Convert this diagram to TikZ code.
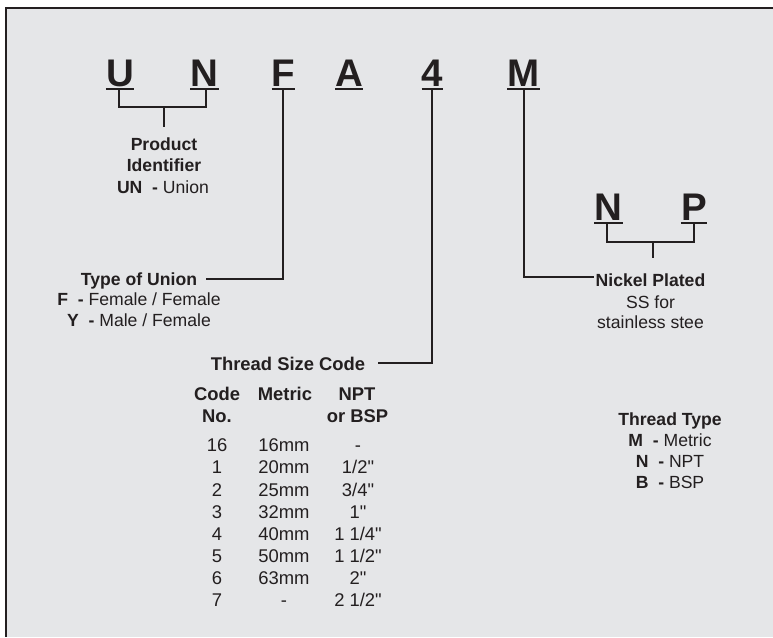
\documentclass[tikz,border=0pt]{standalone}
\usepackage{fontspec}
\setmainfont{Liberation Sans}
\definecolor{bgcol}{HTML}{E5E6E8}
\definecolor{ink}{HTML}{231F20}
\newcommand\bigf{\fontsize{38.5}{40}\selectfont\bfseries}
\newcommand\lblf{\fontsize{17.6}{21}\selectfont}
\newcommand\tblf{\fontsize{18.4}{22}\selectfont}
\newcommand\inch{\textquotedbl}
\begin{document}
\begin{tikzpicture}[x=1pt,y=-1pt,
  big/.style={font=\bigf, anchor=base, inner sep=0pt, text=ink},
  lbl/.style={font=\lblf, anchor=base, inner sep=0pt, text=ink},
  tbl/.style={font=\tblf, anchor=base, inner sep=0pt, text=ink},
  ln/.style={line width=2.4pt, draw=ink},
  ul/.style={line width=2pt, draw=ink},
  frame/.style={line width=1.3pt, draw=ink}]
\useasboundingbox (0,0) rectangle (773,637);
\fill[white] (0,0) rectangle (773,637);
\fill[bgcol] (6,8) rectangle (773,637);
\draw[frame] (773,8) -- (6,8) -- (6,637);

% big code letters
\node[big] (U) at (120,86) {U};
\node[big] (N) at (204.5,86) {N};
\node[big] (F) at (283.5,86) {F};
\node[big] (A) at (349,86) {A};
\node[big] (four) at (432.5,86) {4};
\node[big] (M) at (523.5,86) {M};
\node[big] (N2) at (608.5,220) {N};
\node[big] (P2) at (694,220) {P};

\foreach \n in {U,N,F,A,four,M,N2,P2}{
  \draw[ul] ([yshift=-2.6pt]\n.base west) -- ([yshift=-2.6pt]\n.base east);
}

% anchor points under letters
\coordinate (uU) at (119,88.5);
\coordinate (uN) at (206,88.5);
\coordinate (uF) at (283,88.5);
\coordinate (u4) at (432,88.5);
\coordinate (uM) at (524,88.5);
\coordinate (uN2) at (607,222.5);
\coordinate (uP2) at (694,222.5);

% Product identifier
\node[lbl,font=\lblf\bfseries] (prod) at (164,150) {Product};
\node[lbl,font=\lblf\bfseries] (ident) at (164,171) {Identifier};
\node[lbl] (union) at (163,193) {\textbf{UN\ \ -} Union};
\coordinate (pbr) at (164,107);
\coordinate (ptick) at (164,127);
\draw[ln] (uU) |- (pbr) -| (uN);
\draw[ln] (pbr) -- (ptick);

% Type of union
\node[lbl,font=\lblf\bfseries] (tou) at (139,285) {Type of Union};
\node[lbl] (ff) at (139,305) {\textbf{F\ \ -} Female / Female};
\node[lbl] (mf) at (139,326.5) {\textbf{Y\ \ -} Male / Female};
\coordinate (touend) at (206,279);
\draw[ln] (uF) |- (touend);

% Thread size code
\node[tbl,font=\tblf\bfseries] (tsc) at (288,370) {Thread Size Code};
\coordinate (tscend) at (378,363);
\draw[ln] (u4) |- (tscend);

\node[tbl,font=\tblf\bfseries] (h1a) at (217,400) {Code};
\node[tbl,font=\tblf\bfseries] (h1b) at (217,422) {No.};
\node[tbl,font=\tblf\bfseries] (h2) at (285,400) {Metric};
\node[tbl,font=\tblf\bfseries] (h3a) at (357,400) {NPT};
\node[tbl,font=\tblf\bfseries] (h3b) at (357.5,422) {or BSP};

\foreach \c/\m/\t [count=\i from 0] in {16/16mm/-, 1/20mm/{1/2\inch}, 2/25mm/{3/4\inch}, 3/32mm/{1\inch}, 4/40mm/{1 1/4\inch}, 5/50mm/{1 1/2\inch}, 6/63mm/{2\inch}, 7/-/{2 1/2\inch}}{
  \node[tbl] (c\i) at (217,451.7+22.15*\i) {\c};
  \node[tbl] (m\i) at (284,451.7+22.15*\i) {\m};
  \node[tbl] (t\i) at (358,451.7+22.15*\i) {\t};
}

% Nickel plated
\node[lbl,font=\lblf\bfseries] (nick) at (650.5,286) {Nickel Plated};
\node[lbl] (ssfor) at (650.5,308) {SS for};
\node[lbl] (stain) at (650.5,328) {stainless stee};
\coordinate (nickend) at (594,277);
\draw[ln] (uM) |- (nickend);
\coordinate (npbr) at (653,242);
\coordinate (nptick) at (653,258);
\draw[ln] (uN2) |- (npbr) -| (uP2);
\draw[ln] (npbr) -- (nptick);

% Thread type
\node[lbl,font=\lblf\bfseries] (tt) at (670,425) {Thread Type};
\node[lbl] (ttm) at (670,446) {\textbf{M\ \ -} Metric};
\node[lbl] (ttn) at (670,467.5) {\textbf{N\ \ -} NPT};
\node[lbl] (ttb) at (670,488) {\textbf{B\ \ -} BSP};
\end{tikzpicture}
\end{document}
